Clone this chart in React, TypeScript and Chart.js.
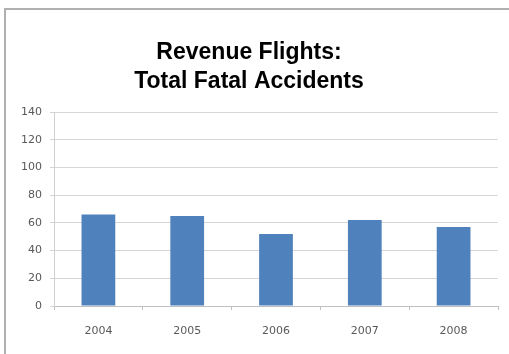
import React, { useEffect, useRef } from "react";
import { Chart, registerables } from "chart.js";

Chart.register(...registerables);

const categories = ["2004", "2005", "2006", "2007", "2008"];
const fatalAccidents = [66, 65, 52, 62, 57];
const titleLines = ["Revenue Flights:", "Total Fatal Accidents"];
const yMin = 0;
const yMax = 140;
const yStep = 20;

export default function App() {
  const canvasRef = useRef<HTMLCanvasElement | null>(null);

  useEffect(() => {
    document.body.style.margin = "0";
    const canvas = canvasRef.current;
    if (!canvas) return;
    const chart = new Chart(canvas, {
      type: "bar",
      data: {
        labels: categories,
        datasets: [
          {
            label: "Total Fatal Accidents",
            data: fatalAccidents,
            backgroundColor: "#4F81BD",
            borderColor: "#4F81BD",
            borderWidth: 0,
            categoryPercentage: 1,
            barPercentage: 0.38,
          },
        ],
      },
      options: {
        responsive: false,
        animation: false,
        layout: { padding: { left: 0, right: 11, top: 0, bottom: 0 } },
        plugins: {
          legend: { display: false },
          tooltip: { enabled: false },
          title: {
            display: true,
            text: titleLines,
            color: "#000000",
            font: { family: "'Liberation Sans', Arial, sans-serif", size: 23, weight: "bold", lineHeight: 29 / 23 },
            padding: { top: 38.5, bottom: 15.5 },
          },
        },
        scales: {
          x: {
            grid: {
              display: true,
              drawOnChartArea: false,
              drawTicks: true,
              tickLength: 4,
              color: "#bfbfbf",
              offset: true,
            },
            border: { display: true, color: "#bfbfbf", width: 1 },
            ticks: {
              color: "#595959",
              font: { family: "'DejaVu Sans', sans-serif", size: 11 },
              padding: 15,
            },
            afterFit: (scale: any) => {
              scale.height = 48;
            },
          },
          y: {
            min: yMin,
            max: yMax,
            grid: {
              color: "#d6d6d6",
              lineWidth: 1,
              drawTicks: true,
              tickLength: 4,
            },
            border: { display: true, color: "#d0d0d0", width: 1 },
            ticks: {
              stepSize: yStep,
              color: "#595959",
              font: { family: "'DejaVu Sans', sans-serif", size: 11 },
              padding: 8,
            },
            afterFit: (scale: any) => {
              scale.width = 54;
            },
          },
        },
      },
    });
    return () => chart.destroy();
  }, []);

  return (
    <div style={{ position: "relative", width: 509, height: 354, background: "#ffffff" }}>
      <canvas ref={canvasRef} width={509} height={354} style={{ display: "block", width: 509, height: 354 }} />
      <div
        style={{
          position: "absolute",
          left: 4,
          top: 8,
          width: 505,
          height: 346,
          borderLeft: "2px solid #b0b0b0",
          borderTop: "2px solid #b0b0b0",
          boxSizing: "border-box",
          pointerEvents: "none",
        }}
      />
    </div>
  );
}
